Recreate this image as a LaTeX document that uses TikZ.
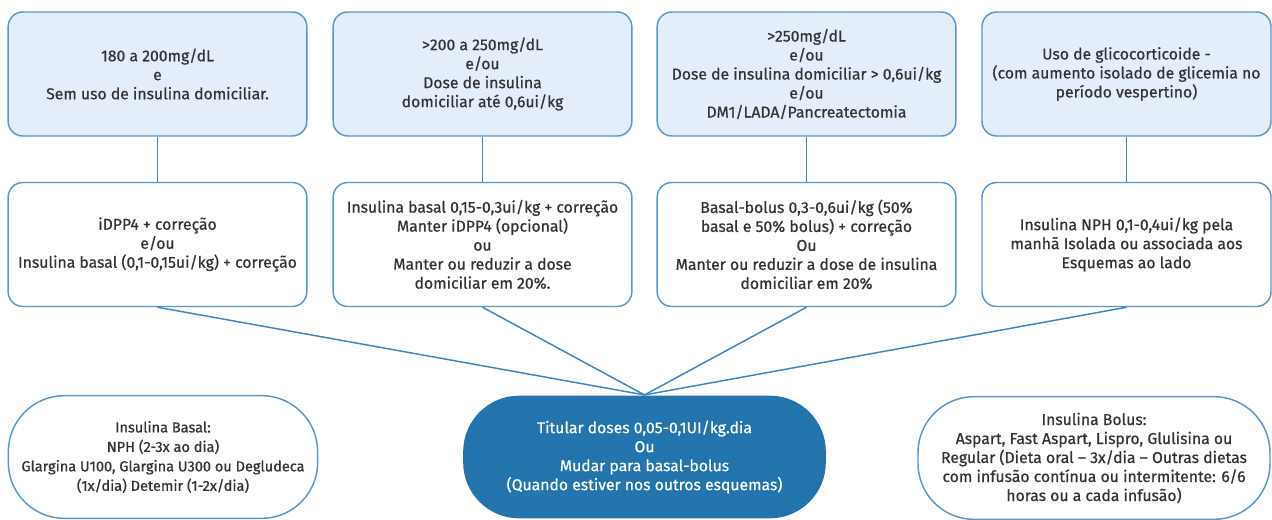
\documentclass[tikz,border=0pt]{standalone}
\usepackage{fontspec}
\setmainfont{Fira Sans}[BoldFont=Fira Sans, BoldFeatures={FakeBold=0.6}]
\definecolor{boxline}{HTML}{5B97C9}
\definecolor{boxfill}{HTML}{E4EEFB}
\definecolor{linkblue}{HTML}{3F85BF}
\definecolor{pillblue}{HTML}{2374AD}
\definecolor{txtgray}{HTML}{333333}
\begin{document}
\begin{tikzpicture}[x=0.75pt,y={(0pt,-0.75pt)},
  font=\fontsize{11.8}{14.25}\selectfont\bfseries,
  topbox/.style={draw=boxline, line width=1.1pt, fill=boxfill, rounded corners=11pt,
    align=center, text=txtgray, minimum width=224pt, minimum height=93pt, inner sep=2pt},
  midbox/.style={topbox, fill=white},
  pill/.style={draw=boxline, line width=1.1pt, fill=white, rounded corners=42pt,
    align=center, text=txtgray, minimum height=92pt, inner sep=2pt},
  link/.style={draw=linkblue, line width=1.1pt}]
\useasboundingbox (0,0) rectangle (1272,519);
\node[topbox] (c1) at (157.5,74) {180 a 200mg/dL\\e\\Sem uso de insulina domiciliar.};
\node[topbox] (c2) at (482.5,74) {>200 a 250mg/dL\\e/ou\\Dose de insulina\\domiciliar até 0,6ui/kg};
\node[topbox] (c3) at (806.5,74) {>250mg/dL\\e/ou\\Dose de insulina domiciliar > 0,6ui/kg\\e/ou\\DM1/LADA/Pancreatectomia};
\node[topbox, minimum width=216.75pt] (c4) at (1126.5,74) {Uso de glicocorticoide -\\(com aumento isolado de glicemia no\\período vespertino)};
\node[midbox] (t1) at (157.5,244.5) {iDPP4 + correção\\e/ou\\Insulina basal (0,1-0,15ui/kg) + correção};
\node[midbox] (t2) at (482.5,244.5) {Insulina basal 0,15-0,3ui/kg + correção\\Manter iDPP4 (opcional)\\ou\\Manter ou reduzir a dose\\domiciliar em 20\%.};
\node[midbox] (t3) at (806.5,244.5) {Basal-bolus 0,3-0,6ui/kg (50\%\\basal e 50\% bolus) + correção\\Ou\\Manter ou reduzir a dose de insulina\\domiciliar em 20\%};
\node[midbox, minimum width=216.75pt] (t4) at (1126.5,244.5) {Insulina NPH 0,1-0,4ui/kg pela\\manhã Isolada ou associada aos\\Esquemas ao lado};
\node[pill, minimum width=232pt, font=\fontsize{10.9}{14.6}\selectfont\bfseries] (basal) at (163,457) {Insulina Basal:\\NPH (2-3x ao dia)\\Glargina U100, Glargina U300 ou Degludeca\\(1x/dia) Detemir (1-2x/dia)};
\node[pill, draw=none, fill=pillblue, text=white, minimum width=272pt] (titular) at (644.5,457) {Titular doses 0,05-0,1UI/kg.dia\\Ou\\Mudar para basal-bolus\\(Quando estiver nos outros esquemas)};
\node[pill, minimum width=264pt] (bolus) at (1094,458) {Insulina Bolus:\\Aspart, Fast Aspart, Lispro, Glulisina ou\\Regular (Dieta oral – 3x/dia – Outras dietas\\com infusão contínua ou intermitente: 6/6\\horas ou a cada infusão)};
\draw[link] (c1) -- (t1);
\draw[link] (c2) -- (t2);
\draw[link] (c3) -- (t3);
\draw[link] (c4) -- (t4);
\draw[link] (t1.south) -- (titular.north);
\draw[link] (t2.south) -- (titular.north);
\draw[link] (t3.south) -- (titular.north);
\draw[link] (t4.south) -- (titular.north);
\end{tikzpicture}
\end{document}
